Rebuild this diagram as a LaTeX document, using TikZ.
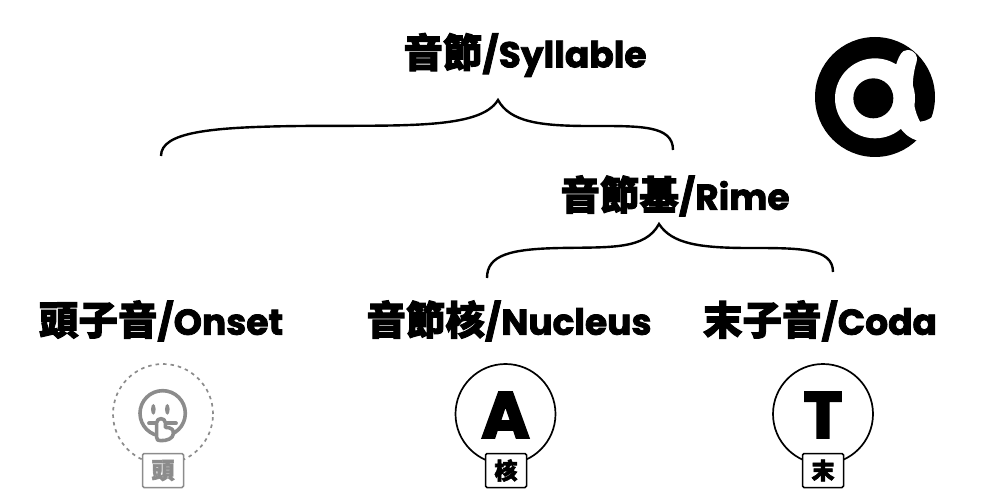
\documentclass[tikz,border=0pt]{standalone}
\usepackage{fontspec}
\newfontfamily\cjk[FakeBold=2.6]{Noto Sans CJK TC Black}
\newfontfamily\lat[FakeBold=2.2]{Poppins Bold}
\newfontfamily\latbig[FakeBold=3.5]{Poppins Bold}
\newcommand{\lbl}[2]{{\cjk #1}{\fontsize{36}{39}\selectfont\lat #2}}
\definecolor{mute}{HTML}{8C8C8C}
\tikzset{
  head/.style={inner sep=0pt,font=\fontsize{39.5}{39}\selectfont},
  ring/.style={circle,draw=black,line width=1.7pt,minimum size=100pt,inner sep=0pt,fill=white},
  ringmute/.style={circle,draw=mute,line width=1.7pt,dashed,dash pattern=on 3.5pt off 4pt,minimum size=100pt,inner sep=0pt},
  tag/.style={draw=black,line width=1.5pt,rounded corners=1.5pt,fill=white,minimum width=41pt,minimum height=34pt,inner sep=0pt,font=\cjk\fontsize{23}{23}\selectfont},
  tagmute/.style={tag,draw=mute,text=mute},
  brace/.style={draw=black,line width=2.4pt},
  glyph/.style={inner sep=0pt,font=\fontsize{65}{65}\selectfont\latbig},
}
\begin{document}
\begin{tikzpicture}[x=1pt,y=-1pt]
\useasboundingbox (0,0) rectangle (1000,500);
\node[head] (syl) at (525,55) {\lbl{音節}{/Syllable}};
\node[head] (rime) at (675,196) {\lbl{音節基}{/Rime}};
\node[head] (onset) at (161,321) {\lbl{頭子音}{/Onset}};
\node[head] (nuc) at (509,321) {\lbl{音節核}{/Nucleus}};
\node[head] (coda) at (820,321) {\lbl{末子音}{/Coda}};
% braces
\draw[brace] (161,156) .. controls (161,132) and (210,127) .. (300,126) .. controls (400,125) and (480,130) .. (498,100)
  .. controls (510,122) and (540,126) .. (590,126) .. controls (640,126) and (673,125) .. (673,150);
\draw[brace] (487,278) .. controls (487,255) and (510,249) .. (560,248) .. controls (610,247) and (645,250) .. (659,224)
  .. controls (672,244) and (700,248) .. (750,248) .. controls (800,248) and (833,248) .. (833,272);
% logo
\begin{scope}[shift={(800,40)},x=0.3333pt,y=-0.3333pt]
\fill[black] (225,171) circle (180);
\fill[white] (225,175) circle (120);
\fill[white] (280,170) -- (285,85) .. controls (295,50) and (305,30) .. (322,30) .. controls (345,30) and (355,50) .. (350,65)
  .. controls (335,110) and (330,190) .. (360,245) .. controls (375,245) and (395,235) .. (420,215) -- (430,310) -- (352,302)
  .. controls (330,295) and (312,282) .. (300,262) -- cycle;
\fill[black] (220,175) circle (60);
\end{scope}
% circles
\node[ringmute] (c1) at (163,414) {};
\node[ring] (c2) at (505.5,414) {};
\node[ring] (c3) at (823,414) {};
\node[glyph] (ga) at (505.5,415) {A};
\node[glyph] (gt) at (823,415) {T};
\node[tagmute] (t1) at (163,470.5) {頭};
\node[tag] (t2) at (506,470.5) {核};
\node[tag] (t3) at (823,470.5) {末};
% emoji
\begin{scope}[shift={(90,350)},x=0.3333pt,y=-0.3333pt]
\draw[mute,line width=3.6pt] (218,190) circle (68);
\fill[mute] (190,178) ellipse (7 and 16) (232,178) ellipse (7 and 16);
\draw[mute,line width=3.8pt,line cap=round] (177,220) -- (258,220);
\draw[mute,line width=3.6pt,fill=white,line join=round] (200,262) -- (200,218) .. controls (200,202) and (226,202) .. (226,218)
  -- (226,232) .. controls (245,232) and (252,240) .. (250,252) .. controls (248,266) and (232,272) .. (212,272) .. controls (204,272) and (200,270) .. (200,262) -- cycle;
\end{scope}
\end{tikzpicture}
\end{document}
